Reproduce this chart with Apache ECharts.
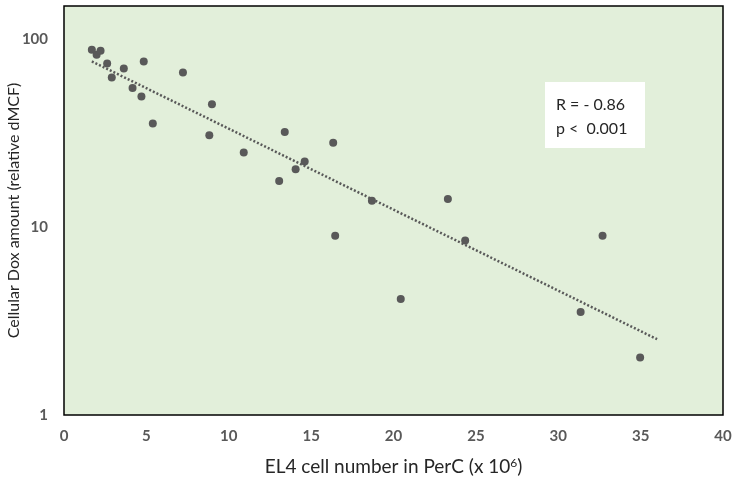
<!DOCTYPE html>
<html>
<head>
<meta charset="utf-8">
<script src="https://cdn.jsdelivr.net/npm/echarts@6/dist/echarts.min.js"></script>
<style>html,body{margin:0;padding:0;background:#fff;}#c{width:736px;height:485px;}</style>
</head>
<body>
<div id="c"></div>
<script>
const cellNumber = [1.69, 1.98, 2.22, 2.62, 2.9, 3.63, 4.16, 4.84, 4.7, 5.39, 7.22, 8.82, 8.98, 10.91, 13.06, 13.4, 14.06, 14.61, 16.34, 16.46, 18.69, 20.44, 23.3, 24.35, 31.36, 32.69, 34.97];
const doxAmount = [87.7, 82.5, 86.7, 74.2, 62.5, 69.8, 55.0, 76.1, 49.5, 35.6, 66.4, 30.8, 45, 24.9, 17.6, 32.0, 20.3, 22.3, 28.1, 9.0, 13.8, 4.14, 14.1, 8.47, 3.53, 9.0, 2.02];
const trendX = [1.69, 36.0];
const trendY = [76.1, 2.53];
const xTicks = [0, 5, 10, 15, 20, 25, 30, 35, 40];
const yTicks = [1, 10, 100];
const statLines = ['R = - 0.86', 'p <  0.001'];

const chart = echarts.init(document.getElementById('c'), null, {renderer: 'canvas'});
const FONT = 'Lato, "Open Sans", sans-serif';
chart.setOption({
  animation: false,
  backgroundColor: '#ffffff',
  grid: {
    left: 64, right: 13, top: 6, bottom: 70,
    containLabel: false, outerBoundsMode: 'none',
    show: true, backgroundColor: '#e2efda', borderColor: '#000000', borderWidth: 1.5
  },
  xAxis: {
    type: 'value', min: 0, max: 40, interval: 5,
    axisLine: {show: false}, axisTick: {show: false}, splitLine: {show: false},
    axisLabel: {
      margin: 14, color: '#595959', fontWeight: 'bold', fontSize: 15, fontFamily: FONT,
      customValues: xTicks
    },
    name: '{a|EL4 cell number in PerC (x 10}{s|6}{a|)}',
    nameLocation: 'middle', nameGap: 42, nameMoveOverlap: false,
    nameTextStyle: {
      rich: {
        a: {fontSize: 19, color: '#262626', fontFamily: FONT},
        s: {fontSize: 12, color: '#262626', fontFamily: FONT, verticalAlign: 'top', padding: [0, 0, 8, 0]}
      }
    }
  },
  yAxis: {
    type: 'log', logBase: 10, min: 1, max: 150,
    axisLine: {show: false}, axisTick: {show: false}, splitLine: {show: false},
    axisLabel: {
      margin: 16, color: '#595959', fontWeight: 'bold', fontSize: 15, fontFamily: FONT,
      customValues: yTicks
    },
    name: 'Cellular Dox amount (relative dMCF)',
    nameLocation: 'middle', nameGap: 42, nameRotate: 90, nameMoveOverlap: false,
    nameTextStyle: {fontSize: 16, color: '#262626', fontFamily: FONT}
  },
  series: [
    {
      type: 'line', data: trendX.map((x, i) => [x, trendY[i]]),
      showSymbol: false, symbol: 'none', silent: true,
      lineStyle: {color: '#595959', width: 2.5, type: [2, 2]}
    },
    {
      type: 'scatter', data: cellNumber.map((x, i) => [x, doxAmount[i]]),
      symbol: 'circle', symbolSize: 8,
      itemStyle: {color: '#595959', opacity: 1}
    }
  ],
  graphic: [{
    type: 'group', left: 545, top: 82,
    children: [
      {type: 'rect', shape: {x: 0, y: 0, width: 100, height: 66}, style: {fill: '#ffffff'}},
      {type: 'text', x: 11, y: 11, style: {text: statLines.join('\n'), fill: '#262626', font: '16px ' + FONT, lineHeight: 24}}
    ]
  }]
});
</script>
</body>
</html>
